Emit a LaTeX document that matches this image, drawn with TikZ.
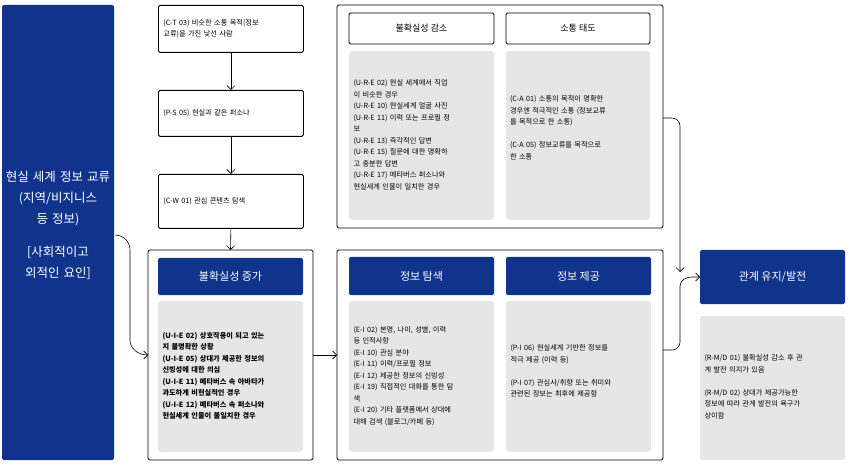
\documentclass[tikz,border=0pt]{standalone}
\usepackage{fontspec}
\setmainfont{Noto Sans CJK KR}
\usetikzlibrary{arrows.meta}
\definecolor{navy}{RGB}{16,52,140}
\definecolor{panelgray}{RGB}{230,230,230}
\tikzset{
  box/.style={draw,thick,rounded corners=1.5pt},
  bluehead/.style={fill=navy,rounded corners=2pt,text=white,font=\fontsize{11}{13}\selectfont},
  whitehead/.style={box,font=\fontsize{9}{11}\selectfont},
  graybox/.style={fill=panelgray,rounded corners=3pt},
  body/.style={font=\fontsize{7.2}{11.5}\selectfont,align=left},
  link/.style={-{Straight Barb[length=4pt]},semithick}
}
\begin{document}
\begin{tikzpicture}[x=1pt,y=-1pt]
\useasboundingbox (0,0) rectangle (849,465);

% left source
\fill[navy,rounded corners=2pt] (2,5) rectangle (114,460);
\node[text=white,align=center,text width=105,font=\fontsize{12.5}{21}\selectfont] (src) at (58,225)
  {현실 세계 정보 교류 (지역/비지니스 등 정보)\\[12pt][사회적이고 외적인 요인]};

% first column
\node[box,minimum width=145,minimum height=47,text width=135,body,anchor=north west] (ct) at (158,5)
  {(C-T 03) 비슷한 소통 목적(정보\\교류)을 가진 낯선 사람};
\node[box,minimum width=145,minimum height=46,text width=135,body,anchor=north west] (ps) at (158,90)
  {(P-S 05) 현실과 같은 퍼소나};
\node[box,minimum width=145,minimum height=54,text width=135,body,anchor=north west] (cw) at (158,174)
  {(C-W 01) 관심 콘텐츠 탐색};

% panels
\draw[box] (148,250) rectangle (313,460);
\coordinate (p1w) at (148,355);
\coordinate (p1e) at (313,355);
\draw[box] (337,5) rectangle (663,228);
\coordinate (p2e) at (663,118);
\draw[box] (337,250) rectangle (663,460);
\coordinate (p3w) at (337,355);
\coordinate (p3e) at (663,350);

% uncertainty increase
\fill[navy,rounded corners=2pt] (158,258) rectangle (303,295);
\node[bluehead] (ui) at (230.5,276.5) {불확실성 증가};
\fill[graybox] (158,301) rectangle (303,452);
\node[body,text width=136,font=\fontsize{7.2}{11.5}\selectfont\bfseries] (uitext) at (230.5,376)
  {(U-I-E 02) 상호작용이 되고 있는\\지 불명확한 상황\\(U-I-E 05) 상대가 제공한 정보의\\신빙성에 대한 의심\\(U-I-E 11) 메타버스 속 아바타가\\과도하게 비현실적인 경우\\(U-I-E 12) 메타버스 속 퍼소나와\\현실세계 인물이 불일치한 경우};

% uncertainty reduction / attitude
\node[whitehead,minimum width=145,minimum height=31] (ur) at (421.5,28.5) {불확실성 감소};
\node[whitehead,minimum width=144,minimum height=31] (ca) at (578,28.5) {소통 태도};
\fill[graybox] (349,51) rectangle (494,220);
\fill[graybox] (506,51) rectangle (650,220);
\node[body,text width=136] (urtext) at (421.5,135)
  {(U-R-E 02) 현실 세계에서 직업\\이 비슷한 경우\\(U-R-E 10) 현실세계 얼굴 사진\\(U-R-E 11) 이력 또는 프로필 정\\보\\(U-R-E 13) 즉각적인 답변\\(U-R-E 15) 질문에 대한 명확하\\고 충분한 답변\\(U-R-E 17) 메타버스 퍼소나와\\현실세계 인물이 일치한 경우};
\node[body,text width=136] (catext) at (578,128)
  {(C-A 01) 소통의 목적이 명확한\\경우엔 적극적인 소통 (정보교류\\를 목적으로 한 소통)\\[11.5pt](C-A 05) 정보교류를 목적으로\\한 소통};

% information seeking / providing
\fill[navy,rounded corners=2pt] (349,257) rectangle (494,295);
\node[bluehead] (es) at (421.5,276) {정보 탐색};
\fill[navy,rounded corners=2pt] (506,257) rectangle (651,295);
\node[bluehead] (pi) at (578.5,276) {정보 제공};
\fill[graybox] (349,301) rectangle (494,452);
\fill[graybox] (506,301) rectangle (651,452);
\node[body,text width=136] (estext) at (421.5,376)
  {(E-I 02) 본명, 나이, 성별, 이력\\등 인적사항\\(E-I 10) 관심 분야\\(E-I 11) 이력/프로필 정보\\(E-I 12) 제공한 정보의 신빙성\\(E-I 19) 직접적인 대화를 통한 탐\\색\\(E-I 20) 기타 플랫폼에서 상대에\\대해 검색 (블로그/카페 등)};
\node[body,text width=136] (pitext) at (578.5,371)
  {(P-I 06) 현실세계 기반한 정보를\\적극 제공 (이력 등)\\[11.5pt](P-I 07) 관심사/취향 또는 취미와\\관련된 정보는 최후에 제공함};

% relationship
\fill[navy,rounded corners=2pt] (700,250) rectangle (845,304);
\node[bluehead] (rm) at (772.5,277) {관계 유지/발전};
\coordinate (rmw) at (700,277);
\fill[graybox] (700,316) rectangle (845,460);
\node[body,text width=136] (rmtext) at (772.5,387)
  {(R-M/D 01) 불확실성 감소 후 관\\계 발전 의지가 있음\\[11.5pt](R-M/D 02) 상대가 제공가능한\\정보에 따라 관계 발전의 욕구가\\상이함};

% connectors
\draw[link] (ct) -- (ps);
\draw[link] (ps) -- (cw);
\draw[link] (cw.south) -- (230.5,250);
\draw[link] (115,235) to[out=0,in=90] (130,250) -- (130,340) to[out=-90,in=180] (p1w);
\draw[link] (p1e) -- (p3w);
\draw[link] (p2e) -- (672,118) to[out=0,in=90] (680,126) -- (680,272);
\draw[link] (p3e) -- (672,350) to[out=0,in=-90] (680,342) -- (680,286) to[out=90,in=180] (692,277) -- (rmw);
\end{tikzpicture}
\end{document}
